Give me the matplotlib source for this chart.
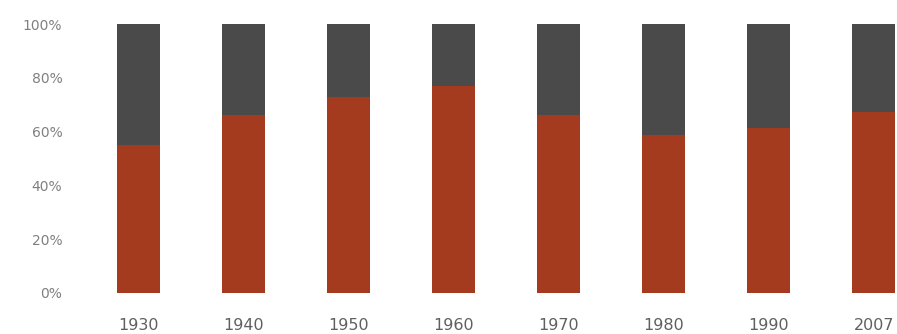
import matplotlib.pyplot as plt
import numpy as np

years = ["1930", "1940", "1950", "1960", "1970", "1980", "1990", "2007"]
lower_share = [55.0, 66.2, 73.0, 77.0, 66.2, 58.7, 61.3, 67.3]
upper_share = [100 - v for v in lower_share]

red = "#A43A1E"
dark = "#4A4A4A"

fig = plt.figure(figsize=(8.97, 3.34), dpi=100)
ax = fig.add_axes([86 / 897, 41 / 334, 1 - 86 / 897, 269 / 334])

x = np.arange(len(years))
ax.bar(x, lower_share, width=0.41, color=red)
ax.bar(x, upper_share, width=0.41, bottom=lower_share, color=dark)

ax.set_xlim(-0.5, 7.22)
ax.set_ylim(0, 100)
ax.set_yticks([0, 20, 40, 60, 80, 100])
ax.set_yticklabels([f"{v}%" for v in [0, 20, 40, 60, 80, 100]], color="#808080", fontsize=10)
ax.set_xticks(x)
ax.set_xticklabels(years, color="#606060", fontsize=11.5)
ax.tick_params(axis="both", length=0)
ax.tick_params(axis="y", pad=17)
ax.tick_params(axis="x", pad=18)
for s in ax.spines.values():
    s.set_visible(False)

plt.savefig("out.png", dpi=100)
